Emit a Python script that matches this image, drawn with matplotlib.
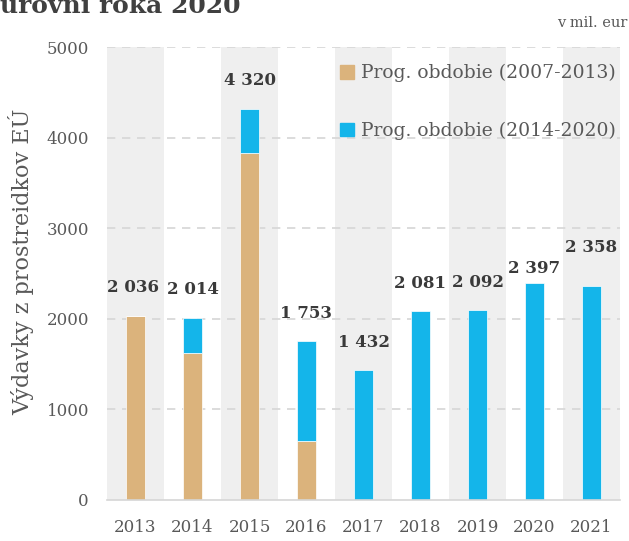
import numpy as np
import matplotlib
matplotlib.use("Agg")
import matplotlib.pyplot as plt
from matplotlib.patches import Patch

# data (mil. eur)
years = ["2013", "2014", "2015", "2016", "2017", "2018", "2019", "2020", "2021"]
old_period = [2036, 1620, 3830, 650, 0, 0, 0, 0, 0]        # 2007-2013
new_period = [0, 394, 490, 1103, 1432, 2081, 2092, 2397, 2358]  # 2014-2020
totals = [2036, 2014, 4320, 1753, 1432, 2081, 2092, 2397, 2358]
total_labels = ["2 036", "2 014", "4 320", "1 753", "1 432", "2 081", "2 092", "2 397", "2 358"]
legend_labels = ["Prog. obdobie (2007-2013)", "Prog. obdobie (2014-2020)"]

tan = "#DBB37C"
blue = "#14B5EA"
band = "#EFEFEF"
txt = "#595959"

plt.rcParams["font.family"] = ["DejaVu Serif"]

fig = plt.figure(figsize=(6.29, 5.41), dpi=100)
ax = fig.add_axes([107/629, 41/541, 513/629, 453/541])

x = np.arange(len(years))

#alternating grey bands behind every other year
for i in range(0, len(years), 2):
    ax.axvspan(i - 0.5, i + 0.5, color=band, lw=0, zorder=0)

#dashed grid
for v in range(1000, 5001, 1000):
    ax.axhline(v, color="#D6D6D6", lw=1.2, ls=(0, (5, 4)), zorder=1)

ax.bar(x, old_period, width=0.35, color=tan, edgecolor="white", linewidth=0.5, zorder=2)
ax.bar(x, new_period, width=0.35, bottom=old_period, color=blue, edgecolor="white", linewidth=0.5, zorder=2)

#value labels (a couple were nudged by hand in the original)
nudge = {7: -10, 8: 8}
for i, (t, lab) in enumerate(zip(totals, total_labels)):
    off = 20 + nudge.get(i, 0)
    ax.annotate(lab, (x[i], t), xytext=(-2 if i == 0 else 0, off), textcoords="offset points",
                ha="center", va="center", fontsize=12, fontweight="bold", color="#3A3A3A", zorder=3)

ax.set_xlim(-0.5, len(years) - 0.5)
ax.set_ylim(0, 5000)
ax.set_xticks(x)
ax.set_xticklabels(years)
ax.set_yticks(range(0, 5001, 1000))
ax.tick_params(axis="both", length=0, colors=txt)
ax.tick_params(axis="y", pad=13, labelsize=12)
ax.tick_params(axis="x", pad=14, labelsize=12)

for s in ["top", "right", "left"]:
    ax.spines[s].set_visible(False)
ax.spines["bottom"].set_color("#D6D6D6")
ax.spines["bottom"].set_linewidth(1.2)

ax.set_ylabel("Výdavky z prostreidkov EÚ", fontsize=16, color=txt)
ax.yaxis.set_label_coords(-0.142, 0.525)

handles = [Patch(color=tan), Patch(color=blue)]
leg = ax.legend(handles, legend_labels, loc="upper left", bbox_to_anchor=(0.455, 0.962),
                frameon=False, fontsize=13.5, labelspacing=2.1, handlelength=0.75,
                handleheight=0.75, handletextpad=0.35, borderpad=0, borderaxespad=0)
for t in leg.get_texts():
    t.set_color(txt)

fig.text(0.0, 1 - 13/541, "úrovni roka 2020", fontsize=18, fontweight="bold",
         color="#404040", ha="left", va="baseline")
fig.text(0.997, 1 - 23/541, "v mil. eur", fontsize=10.5, color=txt, ha="right", va="center")

plt.savefig("out.png", dpi=100)
